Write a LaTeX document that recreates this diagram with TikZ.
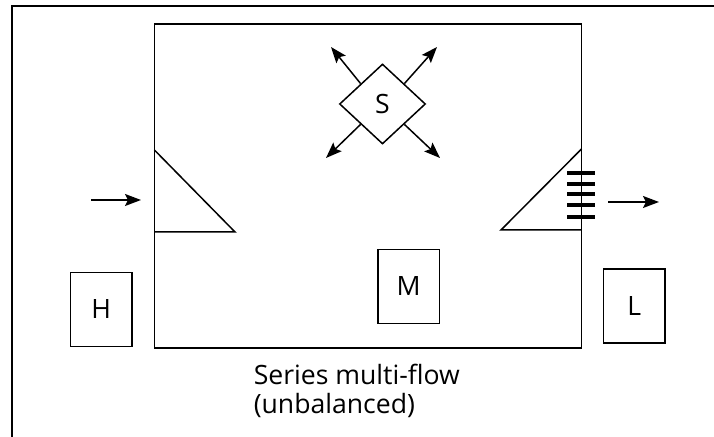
\documentclass[tikz,border=0pt]{standalone}
\usepackage{fontspec}
\setmainfont{Open Sans}
\usetikzlibrary{shapes.geometric,arrows.meta,positioning}

\begin{document}
\begin{tikzpicture}[>={Stealth[length=8pt,width=6pt,inset=1.5pt]},x=0.5pt,y=-0.5pt,line width=0.75pt,font=\fontsize{13.3pt}{14.5pt}\selectfont]
\tikzstyle{box node}=[rectangle,draw,inner sep=0,minimum width=30.7pt,minimum height=37.2pt]
\tikzstyle{fan node}=[diamond,draw,inner sep=0,minimum width=43pt,minimum height=40pt]

\tikzset{
	room node/.style={rectangle,draw,inner sep=0,minimum width=213.5pt,minimum height=162pt},
	grille bar/.style={line width=1.6pt},
	caption node/.style={align=left,anchor=north west,inner sep=0}
}
\useasboundingbox (0,0) rectangle (714,437);
\draw (12,437) -- (12,6) -- (714,6);

      \node[room node] (room) at (368,186.2) {};
      \node[fan node] (S) at (382.5,104) {S};
      \node[box node] (H) at (101.3,309.5) {H};
      \node[box node] (M) at (408.7,286.5) {M};
      \node[box node] (L) at (634.3,306) {L};
      \node[caption node] (cap) at (253,363) {Series multi-flow\\(unbalanced)};

      \coordinate (nw) at (331,47);
      \coordinate (ne) at (437,47);
      \coordinate (sw) at (326,158);
      \coordinate (se) at (440,158);
      \coordinate (in1) at (91,200);
      \coordinate (in2) at (141,200);
      \coordinate (out1) at (608,202);
      \coordinate (out2) at (659,202);

    % grilles
    \draw (154.4,150) -- (235,232) -- (154.4,232);
    \draw (581.5,149) -- (501,230) -- (581.5,230);
    \foreach \y in {173,184,194,205,217}
      \draw[grille bar] (567,\y) -- (595,\y);

    \path[->] (S.north west) edge (nw);
    \path[->] (S.north east) edge (ne);
    \path[->] (S.south west) edge (sw);
    \path[->] (S.south east) edge (se);
    \path[->] (in1) edge (in2);
    \path[->] (out1) edge (out2);
\end{tikzpicture}
\end{document}
